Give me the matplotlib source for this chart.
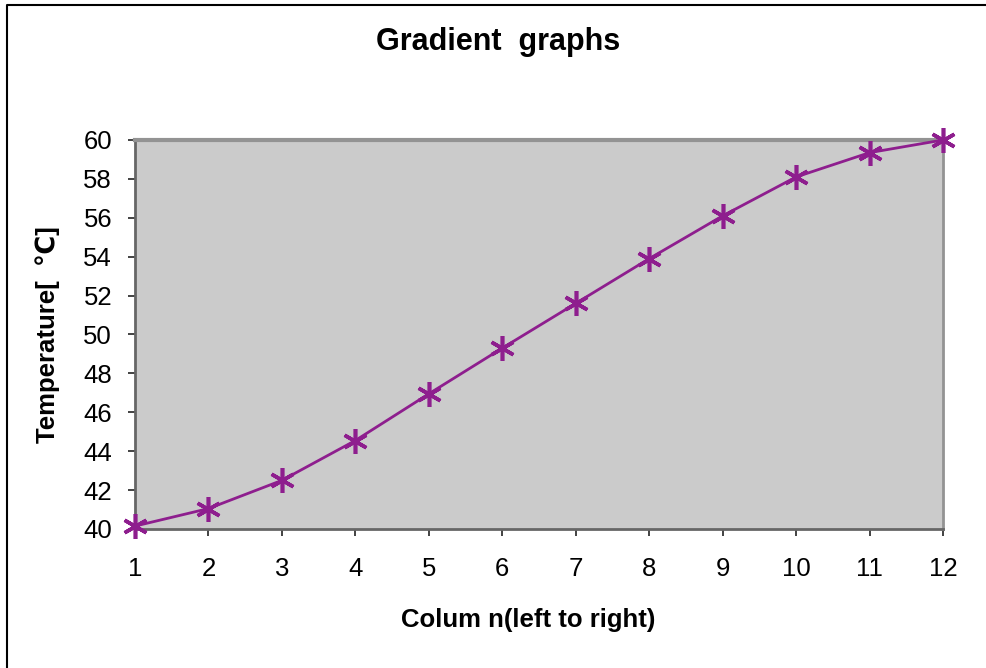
import matplotlib.pyplot as plt
from matplotlib.lines import Line2D

# data
columns = [1, 2, 3, 4, 5, 6, 7, 8, 9, 10, 11, 12]
temperature = [40.15, 41.05, 42.5, 44.55, 46.95, 49.3, 51.6, 53.9, 56.1, 58.1, 59.35, 60.0]
y_ticks = [40, 42, 44, 46, 48, 50, 52, 54, 56, 58, 60]

plt.rcParams['font.family'] = ['Liberation Sans', 'DejaVu Sans']

fig = plt.figure(figsize=(9.86, 6.68), dpi=100)
ax = fig.add_axes([135 / 986, 1 - 529 / 668, (943 - 135) / 986, (529 - 140) / 668])

# outer chart frame (only left and top edges are visible)
fx = 7 / 986
fy = 1 - 5 / 668
fig.add_artist(Line2D([fx, fx, 1], [0, fy, fy], color='black', lw=1.5,
                      transform=fig.transFigure))

ax.set_facecolor('#cbcbcb')
ax.plot(columns, temperature, color='#8e1e8e', lw=2,
        marker=(6, 2, 0), markersize=18, markeredgewidth=2.6, clip_on=False, zorder=5)

ax.set_xlim(1, 12)
ax.set_ylim(40, 60)
ax.set_xticks(columns)
ax.set_yticks(y_ticks)
ax.tick_params(labelsize=18.5, length=5, width=1.2, color='#222222')
ax.tick_params(axis='y', pad=11.5)
ax.tick_params(axis='x', pad=15)

for side in ['top', 'right']:
    ax.spines[side].set_color('#939393')
ax.spines['top'].set_linewidth(3)
ax.spines['right'].set_linewidth(2)
for side in ['left', 'bottom']:
    ax.spines[side].set_color('#666666')
    ax.spines[side].set_linewidth(2)

fig.text(498 / 986, 1 - 42 / 668, 'Gradient  graphs', ha='center', va='center',
         fontsize=22, fontweight='bold')
fig.text(528 / 986, 1 - 620 / 668, 'Colum n(left to right)', ha='center', va='center',
         fontsize=18.5, fontweight='bold')
fig.text(48 / 986, 1 - 335 / 668, 'Temperature[  ℃]', ha='center', va='center',
         rotation=90, fontsize=18.5, fontweight='bold')

fig.savefig('out.png', dpi=100)
